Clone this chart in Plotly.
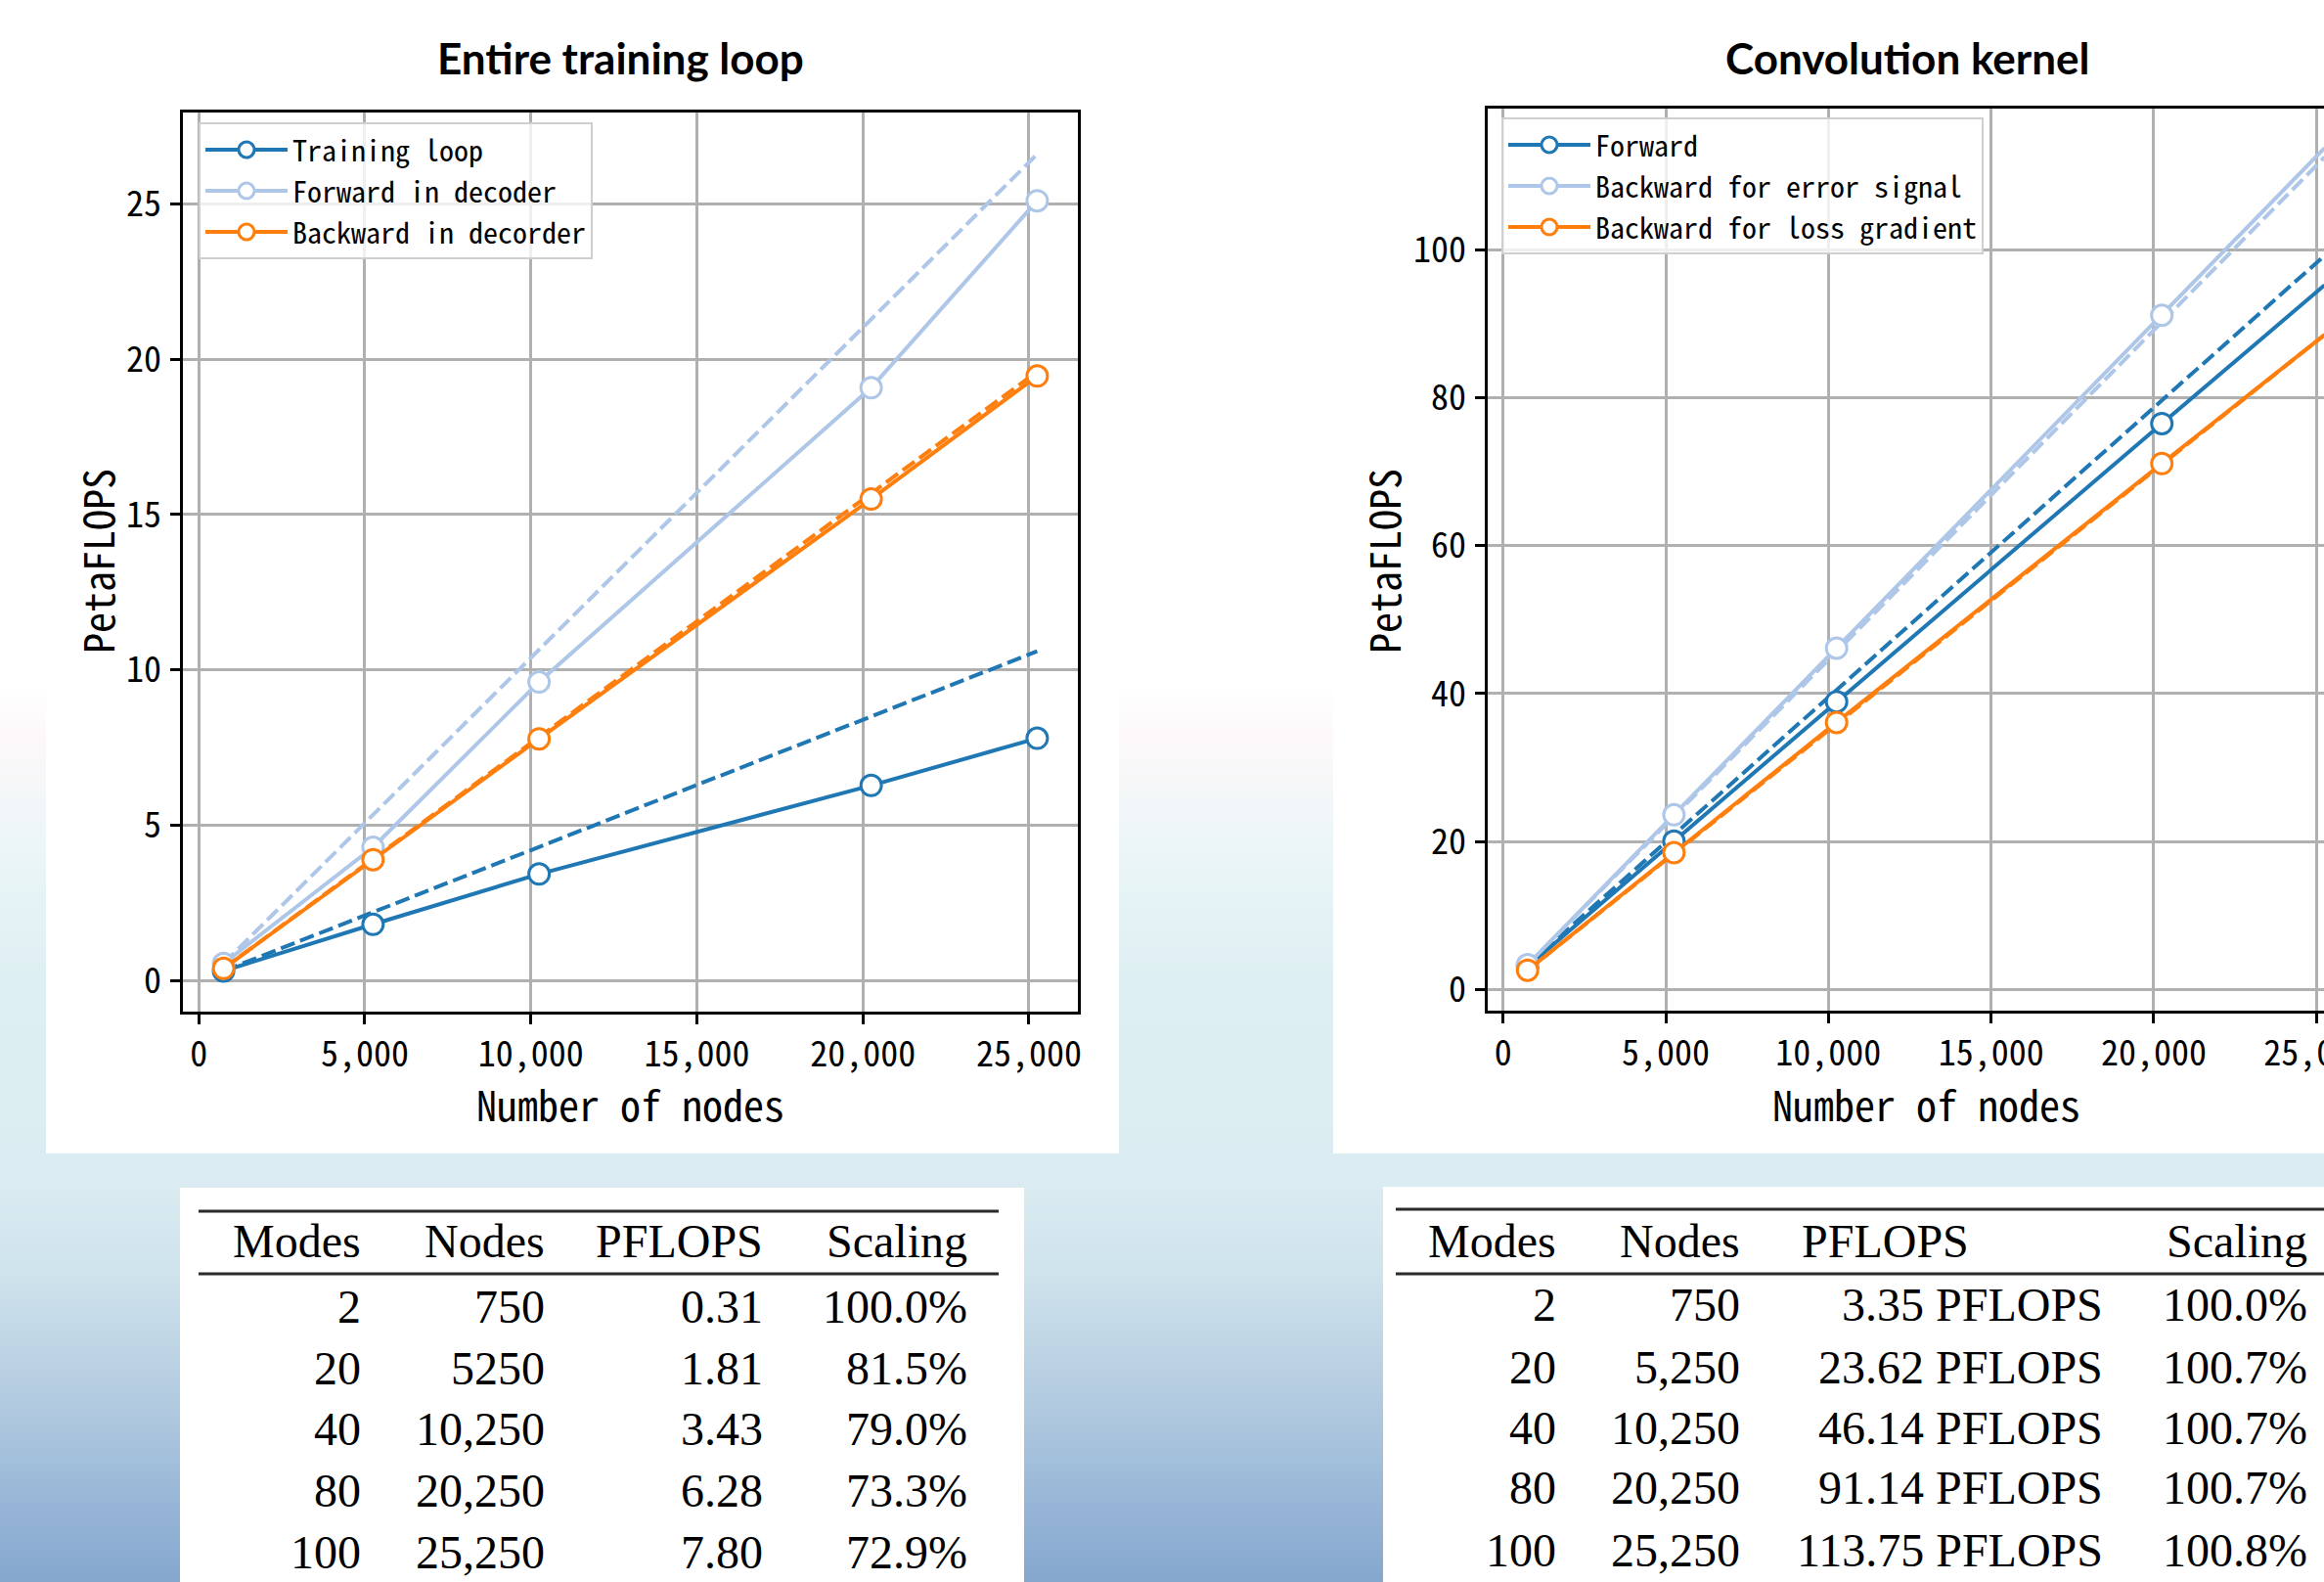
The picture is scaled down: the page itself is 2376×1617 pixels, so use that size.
import numpy as np
import plotly.graph_objects as go

W, H = 2376, 1617

# ---------------- data ----------------
nodes = [750, 5250, 10250, 20250, 25250]
modes = [2, 20, 40, 80, 100]

# Left chart: entire training loop (PetaFLOPS)
training_loop = [0.31, 1.81, 3.43, 6.28, 7.80]
forward_decoder = [0.55, 4.29, 9.61, 19.08, 25.10]
backward_decoder = [0.39, 3.89, 7.78, 15.50, 19.46]
ideal_nodes = [750, 25250]
training_loop_ideal = [0.31, 10.6]
forward_decoder_ideal = [0.55, 26.6]
backward_decoder_ideal = [0.39, 19.6]

# Right chart: convolution kernel (PetaFLOPS)
conv_forward = [3.1, 20.05, 38.9, 76.5, 95.2]
conv_backward_error = [3.35, 23.62, 46.14, 91.14, 113.75]
conv_backward_loss = [2.6, 18.5, 36.1, 71.1, 88.5]
conv_forward_ideal = [3.3, 99.2]
conv_backward_error_ideal = [3.35, 112.5]
conv_backward_loss_ideal = [2.6, 88.5]

x_ticks = [0, 5000, 10000, 15000, 20000, 25000]
left_y_ticks = [0, 5, 10, 15, 20, 25]
right_y_ticks = [0, 20, 40, 60, 80, 100]

left_series_names = ["Training loop", "Forward in decoder", "Backward in decorder"]
right_series_names = ["Forward", "Backward for error signal", "Backward for loss gradient"]

# Tables
table_headers = ["Modes", "Nodes", "PFLOPS", "Scaling"]
table_modes_text = [str(m) for m in modes]
left_nodes_text = ["750", "5250", "10,250", "20,250", "25,250"]
left_pflops_text = ["0.31", "1.81", "3.43", "6.28", "7.80"]
left_scaling_text = ["100.0%", "81.5%", "79.0%", "73.3%", "72.9%"]
right_nodes_text = ["750", "5,250", "10,250", "20,250", "25,250"]
right_pflops_text = ["3.35 PFLOPS", "23.62 PFLOPS", "46.14 PFLOPS", "91.14 PFLOPS", "113.75 PFLOPS"]
right_scaling_text = ["100.0%", "100.7%", "100.7%", "100.7%", "100.8%"]

# ---------------- style ----------------
BLUE, LBLUE, ORANGE = "#1f77b4", "#aec7e8", "#ff7f0e"
MONO = "Noto Sans Mono CJK JP, DejaVu Sans Mono, monospace"
SERIF = "Liberation Serif, Times New Roman, serif"
TITLE_FONT = "Lato, Open Sans, sans-serif"
LW = 4.0


def px(x):
    return x / W


def py(y):
    return 1 - y / H


fig = go.Figure()


def add_dashed(ideal_ys, color, xa, ya):
    fig.add_trace(go.Scatter(
        x=ideal_nodes, y=ideal_ys, mode="lines", xaxis=xa, yaxis=ya,
        line=dict(color=color, width=LW, dash="15px,6px"),
        showlegend=False, hoverinfo="skip"))


def add_solid(xs, ys, color, name, xa, ya, legend):
    fig.add_trace(go.Scatter(
        x=xs, y=ys, mode="lines+markers", name=name, xaxis=xa, yaxis=ya,
        legend=legend, cliponaxis=False,
        line=dict(color=color, width=LW),
        marker=dict(symbol="circle", size=21, color="white",
                    line=dict(color=color, width=3))))


left_sets = [(training_loop, training_loop_ideal, BLUE),
             (forward_decoder, forward_decoder_ideal, LBLUE),
             (backward_decoder, backward_decoder_ideal, ORANGE)]
right_sets = [(conv_forward, conv_forward_ideal, BLUE),
              (conv_backward_error, conv_backward_error_ideal, LBLUE),
              (conv_backward_loss, conv_backward_loss_ideal, ORANGE)]

for ys, ideal, c in left_sets:
    add_dashed(ideal, c, "x", "y")
for (ys, ideal, c), nm in zip(left_sets, left_series_names):
    add_solid(nodes, ys, c, nm, "x", "y", "legend")
for ys, ideal, c in right_sets:
    add_dashed(ideal, c, "x2", "y2")
for (ys, ideal, c), nm in zip(right_sets, right_series_names):
    add_solid(nodes, ys, c, nm, "x2", "y2", "legend2")

axis_common = dict(
    showline=True, linecolor="black", linewidth=2.5,
    ticks="outside", ticklen=10, tickwidth=2.5, tickcolor="black",
    showgrid=True, gridcolor="#b0b0b0", gridwidth=2.5, zeroline=False,
    tickfont=dict(family=MONO, size=36, color="black"),
    ticklabeloverflow="allow", fixedrange=True, automargin=False,
)

fig.update_layout(
    template="none",
    xaxis=dict(domain=[px(187), px(1102)], range=[-475, 26475], anchor="y",
               tickvals=x_ticks, tickformat=",d", mirror=True,
               ticklabelstandoff=0, **axis_common),
    yaxis=dict(domain=[py(1034), py(115)], range=[-1.0, 27.94], anchor="x",
               tickvals=left_y_ticks, mirror=True, ticklabelstandoff=2,
               **axis_common),
    xaxis2=dict(domain=[px(1521), 1.0], range=[-475, 25235], anchor="y2",
                tickvals=x_ticks, tickformat=",d", mirror=True,
                ticklabelstandoff=0, **axis_common),
    yaxis2=dict(domain=[py(1033), py(111)], range=[-2.86, 119.08], anchor="x2",
                tickvals=right_y_ticks, mirror=False, ticklabelstandoff=2,
                **axis_common),
)

legend_common = dict(
    xanchor="left", yanchor="top", bgcolor="rgba(255,255,255,0.8)",
    bordercolor="#cfcfcf", borderwidth=2,
    font=dict(family=MONO, size=30, color="black"),
    itemwidth=84, tracegroupgap=0,
)
fig.update_layout(
    legend=dict(x=px(203), y=py(125), **legend_common),
    legend2=dict(x=px(1535), y=py(120), **legend_common),
)

# ---------------- background (decoration) ----------------
shapes = []
stops_y = [0, 700, 760, 880, 1000, 1200, 1300, 1420, 1520, 1617]
stops_c = [(255, 255, 255), (255, 255, 255), (252, 248, 249), (234, 245, 247),
           (222, 239, 243), (219, 237, 242), (207, 227, 236), (181, 205, 225),
           (155, 185, 216), (133, 167, 206)]
band = 8
for y0 in range(0, H, band):
    ym = y0 + band / 2
    rgb = [int(round(np.interp(ym, stops_y, [c[i] for c in stops_c]))) for i in range(3)]
    shapes.append(dict(type="rect", xref="paper", yref="paper",
                       x0=0, x1=1, y0=py(min(y0 + band + 1, H)), y1=py(y0),
                       fillcolor="rgb(%d,%d,%d)" % tuple(rgb), line=dict(width=0),
                       layer="below"))


def white_box(x0, y0, x1, y1):
    shapes.append(dict(type="rect", xref="paper", yref="paper",
                       x0=px(x0), x1=px(x1), y0=py(y1), y1=py(y0),
                       fillcolor="white", line=dict(width=0), layer="below"))


white_box(47, 0, 1144, 1179)
white_box(1363, 0, W, 1179)
white_box(184, 1214, 1047, H)
white_box(1414, 1213, W, H)


def rule(x0, x1, y):
    shapes.append(dict(type="line", xref="paper", yref="paper",
                       x0=px(x0), x1=px(x1), y0=py(y), y1=py(y),
                       line=dict(color="#2a2a2a", width=3.2), layer="below"))


rule(203, 1021, 1238)
rule(203, 1021, 1302)
rule(1427, W, 1236)
rule(1427, W, 1302)

fig.update_layout(shapes=shapes)

# ---------------- text annotations ----------------
ann = []


def text(x, y, s, size, family, xanchor="center", bold=False, angle=0):
    ann.append(dict(xref="paper", yref="paper", x=px(x), y=py(y),
                    text=("<b>%s</b>" % s) if bold else s,
                    showarrow=False, xanchor=xanchor, yanchor="middle", textangle=angle,
                    font=dict(family=family, size=size, color="black")))


text(634, 59, "Entire training loop", 44, TITLE_FONT, bold=True)
text(1950, 59, "Convolution kernel", 44, TITLE_FONT, bold=True)
text(644, 1127, "Number of nodes", 42, MONO)
text(1969, 1127, "Number of nodes", 42, MONO)
text(98, 574, "PetaFLOPS", 42, MONO, angle=-90)
text(1413, 574, "PetaFLOPS", 42, MONO, angle=-90)

TS = 48
# left table
lcols = [371, 559, 782, 991]
lrows = [1333, 1396, 1458, 1521, 1584]
for cx, h in zip(lcols, table_headers):
    text(cx, 1268, h, TS, SERIF, xanchor="right")
for ry, a, b, c, d in zip(lrows, table_modes_text, left_nodes_text, left_pflops_text, left_scaling_text):
    for cx, s in zip(lcols, [a, b, c, d]):
        text(cx, ry + 2, s, TS, SERIF, xanchor="right")

# right table
rcols = [1593, 1781, 2152, 2361]
rrows = [1331, 1395, 1457, 1518, 1582]
text(rcols[0], 1268, table_headers[0], TS, SERIF, xanchor="right")
text(rcols[1], 1268, table_headers[1], TS, SERIF, xanchor="right")
text(1840, 1268, table_headers[2], TS, SERIF, xanchor="left")
text(rcols[3], 1268, table_headers[3], TS, SERIF, xanchor="right")
for ry, a, b, c, d in zip(rrows, table_modes_text, right_nodes_text, right_pflops_text, right_scaling_text):
    for cx, s in zip(rcols, [a, b, c, d]):
        text(cx, ry + 2, s, TS, SERIF, xanchor="right")

fig.update_layout(
    annotations=ann,
    width=W, height=H, autosize=False,
    margin=dict(l=0, r=0, t=0, b=0, pad=0),
    paper_bgcolor="white", plot_bgcolor="rgba(0,0,0,0)",
    hovermode=False,
)

fig.write_html("out.html", config=dict(displayModeBar=False),
               post_script="document.body.style.margin='0px';document.body.style.overflow='hidden';")
